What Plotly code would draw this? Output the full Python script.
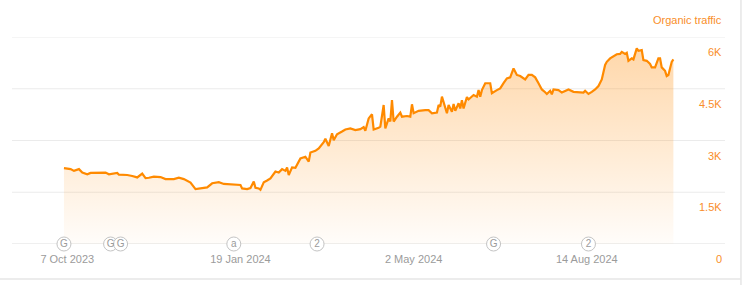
import pandas as pd
import plotly.graph_objects as go

# ---- data ----
start_date = "2023-10-07"
day_offsets = [
    -2, 2, 4, 6, 7, 9, 12, 14, 18, 23, 25, 27, 29, 30, 31, 36, 39, 42, 45, 47,
    49, 52, 56, 59, 64, 67, 70, 74, 77, 81, 84, 87, 91, 94, 98, 104, 105, 108, 110, 112,
    113, 115, 116, 118, 120, 122, 125, 127, 129, 131, 132, 133, 135, 137, 140, 143, 145, 146, 149, 151,
    154, 155, 157, 158, 159, 160, 162, 165, 167, 170, 173, 176, 178, 179, 181, 183, 184, 187, 188, 190,
    191, 193, 194, 195, 196, 198, 200, 201, 204, 206, 207, 208, 211, 215, 217, 219, 222, 223, 224, 225,
    227, 228, 229, 231, 232, 233, 235, 236, 237, 238, 240, 241, 244, 246, 247, 248, 249, 251, 254, 255,
    258, 260, 262, 264, 266, 267, 268, 270, 272, 275, 277, 279, 281, 283, 285, 287, 288, 290, 291, 292,
    295, 297, 299, 301, 304, 307, 310, 311, 313, 315, 317, 319, 321, 323, 324, 326, 328, 330, 332, 333,
    335, 336, 337, 339, 340, 342, 343, 345, 346, 348, 350, 351, 353, 355, 356, 357, 359, 360, 361, 363,
    364,
]
traffic = [
    2200, 2170, 2120, 2150, 2170, 2070, 2020, 2060, 2070, 2070, 2020, 2030, 2040, 2060, 2010, 2000, 1970, 1930, 2040, 1910,
    1920, 1950, 1940, 1880, 1880, 1920, 1880, 1780, 1590, 1610, 1640, 1760, 1790, 1740, 1720, 1710, 1610, 1590, 1620, 1810,
    1630, 1610, 1570, 1790, 1840, 1900, 2100, 2070, 2170, 2120, 2220, 2000, 2220, 2210, 2480, 2530, 2390, 2650, 2700, 2770,
    2950, 3050, 2840, 3010, 3210, 3010, 3180, 3260, 3320, 3350, 3300, 3330, 3390, 3280, 3640, 3760, 3320, 3370, 3400, 4030,
    3350, 3640, 3550, 4170, 3550, 3690, 3810, 3690, 3710, 3690, 4050, 3790, 3860, 3880, 3880, 3790, 3810, 4030, 3980, 4270,
    3980, 3790, 4030, 3830, 4060, 3860, 4080, 3930, 4170, 3930, 4260, 4190, 4320, 4270, 4460, 4270, 4460, 4660, 4660, 4370,
    4460, 4510, 4660, 4800, 4830, 4950, 5090, 4900, 4870, 4770, 4900, 4900, 4830, 4660, 4480, 4400, 4350, 4440, 4340, 4480,
    4460, 4390, 4440, 4480, 4410, 4410, 4390, 4440, 4350, 4410, 4480, 4580, 4770, 5190, 5280, 5380, 5430, 5500, 5510, 5570,
    5510, 5540, 5310, 5380, 5350, 5670, 5600, 5620, 5330, 5310, 5220, 5120, 5120, 5380, 5380, 5120, 5020, 4870, 4900, 5280,
    5350,
]
event_dates = ["2023-10-05", "2023-11-02", "2023-11-08", "2024-01-15", "2024-03-05", "2024-06-19", "2024-08-15"]
event_labels = ["G", "G", "G", "a", "2", "G", "2"]
x_tick_dates = ["2023-10-07", "2024-01-19", "2024-05-02", "2024-08-14"]
y_tick_vals = [0, 1500, 3000, 4500, 6000]
y_tick_text = ["0", "1.5K", "3K", "4.5K", "6K"]
x_range = ["2023-09-03 19:00", "2024-11-05 00:00"]
y_range = [0, 6000]
series_name = "Organic traffic"

dates = pd.Timestamp(start_date) + pd.to_timedelta(day_offsets, unit="D")

ORANGE = "#ff8a00"
LABEL_ORANGE = "#f98e2a"
GRAY = "#9b9b9b"
GRID = "#ebebeb"
FONT = "Arial, Liberation Sans, sans-serif"

fig = go.Figure()

fig.add_trace(go.Scatter(
    x=dates, y=traffic, mode="lines", name=series_name,
    line=dict(color=ORANGE, width=2.2),
    fill="tozeroy",
    fillgradient=dict(
        type="vertical", start=0, stop=6000,
        colorscale=[[0, "rgba(255,136,0,0.02)"], [1, "rgba(255,136,0,0.35)"]],
    ),
    hoverinfo="skip",
))

fig.add_trace(go.Scatter(
    x=pd.to_datetime(event_dates), y=[0] * len(event_dates),
    mode="markers+text", text=event_labels, textposition="middle center",
    textfont=dict(family=FONT, size=10, color=GRAY),
    marker=dict(symbol="circle", size=14, color="white", line=dict(color="#c4c4c4", width=1)),
    cliponaxis=False, hoverinfo="skip",
))

# y tick labels sit 15px below their grid lines
y_label_annotations = [
    dict(text=t, xref="paper", yref="y", x=0.9986, y=v,
         xanchor="right", yanchor="middle", yshift=-15, showarrow=False,
         font=dict(family=FONT, size=11, color=LABEL_ORANGE))
    for v, t in zip(y_tick_vals, y_tick_text)
]

# grid lines (drawn as shapes so the top one at the range edge shows too)
grid_shapes = [
    dict(type="line", xref="paper", yref="y", x0=0, x1=1, y0=v, y1=v,
         line=dict(color=("#efefef" if v == 0 else GRID), width=(2 if v == 0 else 1)),
         layer="below")
    for v in y_tick_vals
]

fig.update_layout(
    width=747, height=285,
    margin=dict(l=12, r=22, t=37, b=41),
    paper_bgcolor="white", plot_bgcolor="white",
    showlegend=False,
    font=dict(family=FONT, size=11),
    xaxis=dict(
        type="date", range=x_range,
        tickvals=pd.to_datetime(x_tick_dates), tickformat="%-d %b %Y",
        tickfont=dict(color=GRAY, size=11), ticklabelstandoff=7,
        showgrid=False, zeroline=False, showline=False, ticks="",
        fixedrange=True,
    ),
    yaxis=dict(
        range=y_range, side="right",
        tickvals=y_tick_vals, showticklabels=False,
        showgrid=False, zeroline=False, showline=False, ticks="",
        fixedrange=True,
    ),
    shapes=grid_shapes + [
        dict(type="line", xref="paper", yref="paper", x0=1.0224, x1=1.0224, y0=1.18, y1=-0.2,
             line=dict(color="#e6e6e6", width=1.5)),
        dict(type="line", xref="paper", yref="paper", x0=-0.02, x1=1.0224, y0=-0.169, y1=-0.169,
             line=dict(color="#e6e6e6", width=1.5)),
    ],
    annotations=[
        dict(text=series_name, xref="paper", yref="paper", x=0.9986, y=1.082,
             xanchor="right", yanchor="middle", showarrow=False,
             font=dict(family=FONT, size=11, color=LABEL_ORANGE)),
    ] + y_label_annotations,
)

fig.write_html("out.html")
